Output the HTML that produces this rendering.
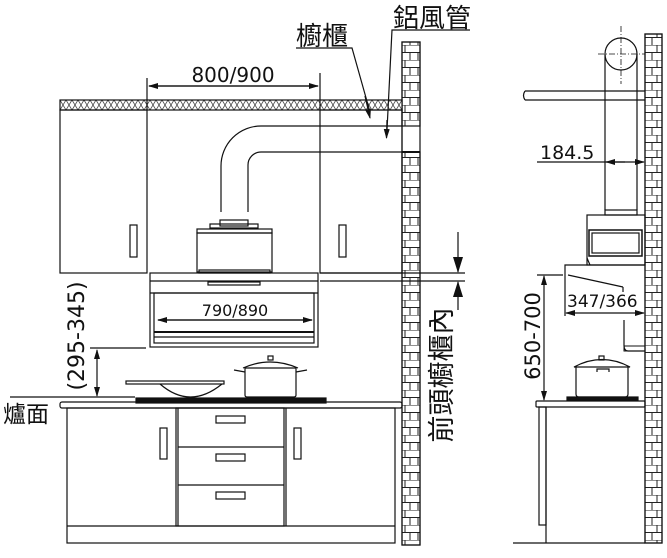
<!DOCTYPE html>
<html><head><meta charset="utf-8"><style>
html,body{margin:0;padding:0;background:#fff;}
svg{display:block;}
text{font-family:"DejaVu Sans","Noto Sans CJK TC",sans-serif;fill:#111;}
.cjk{font-family:"Liberation Sans","Noto Sans CJK TC",sans-serif;}
</style></head><body>
<svg width="667" height="558" viewBox="0 0 667 558" xmlns="http://www.w3.org/2000/svg">
<defs>
<pattern id="brick" x="0" y="0" width="18" height="15" patternUnits="userSpaceOnUse">
<rect width="18" height="15" fill="#fff"/>
<line x1="0" y1="0" x2="18" y2="0" stroke="#222" stroke-width="1"/>
<line x1="0" y1="7.5" x2="18" y2="7.5" stroke="#222" stroke-width="1"/>
<line x1="9" y1="0" x2="9" y2="7.5" stroke="#222" stroke-width="1"/>
<line x1="4" y1="7.5" x2="4" y2="15" stroke="#222" stroke-width="1"/>
<line x1="14" y1="7.5" x2="14" y2="15" stroke="#222" stroke-width="1"/>
</pattern>
<pattern id="hatch" width="6" height="10" patternUnits="userSpaceOnUse">
<rect width="6" height="10" fill="#fff"/>
<path d="M0 0 L6 10 M6 0 L0 10" stroke="#444" stroke-width="0.8"/>
</pattern>
<marker id="ah" markerWidth="10" markerHeight="6" refX="9" refY="3" orient="auto" markerUnits="userSpaceOnUse">
<path d="M0 0 L10 3 L0 6 Z" fill="#111"/>
</marker>
<marker id="ahb" markerWidth="16" markerHeight="10" refX="15" refY="5" orient="auto" markerUnits="userSpaceOnUse">
<path d="M0 0 L16 5 L0 10 Z" fill="#111"/>
</marker>
</defs>
<g stroke="#111" stroke-width="1.2" fill="none">
<rect x="402" y="42" width="18" height="84" fill="url(#brick)"/>
<rect x="402" y="152" width="18" height="393" fill="url(#brick)"/>
<rect x="402" y="42" width="18" height="503"/>
<line x1="402" y1="152" x2="420" y2="152" stroke-width="2"/>
<rect x="60" y="100" width="342" height="10" fill="url(#hatch)"/>
<rect x="60" y="110" width="87" height="163"/>
<rect x="130" y="225" width="7" height="32"/>
<line x1="147" y1="78" x2="147" y2="110"/>
<rect x="320" y="110" width="82" height="163"/>
<line x1="320" y1="73" x2="320" y2="110"/>
<rect x="339" y="225" width="7" height="32"/>
<line x1="149" y1="86" x2="318" y2="86" marker-end="url(#ah)"/>
<line x1="318" y1="86" x2="149" y2="86" marker-end="url(#ah)"/>
<path d="M221 212 L221 166 A40 40 0 0 1 261 126 L402 126"/>
<path d="M248 212 L248 165 A13 13 0 0 1 261 152 L402 152"/>
<rect x="220" y="220" width="28" height="6"/>
<rect x="210" y="224" width="48" height="4"/>
<rect x="197" y="229" width="75" height="4"/>
<rect x="197" y="233" width="75" height="39"/>
<rect x="199" y="270" width="71" height="3"/>
<rect x="150" y="273" width="168" height="74"/>
<line x1="150" y1="281" x2="318" y2="281"/>
<line x1="150" y1="293" x2="318" y2="293"/>
<rect x="208" y="282" width="52" height="3"/>
<rect x="154" y="293" width="160" height="50"/>
<line x1="154" y1="332" x2="314" y2="332" stroke-width="2"/>
<line x1="154" y1="337" x2="314" y2="337"/>
<line x1="158" y1="320" x2="312" y2="320" marker-end="url(#ah)"/>
<line x1="312" y1="320" x2="158" y2="320" marker-end="url(#ah)"/>
<line x1="320" y1="273" x2="465" y2="273"/>
<line x1="320" y1="281" x2="465" y2="281"/>
<line x1="458" y1="232" x2="458" y2="272" marker-end="url(#ahb)"/>
<line x1="458" y1="310" x2="458" y2="282" marker-end="url(#ahb)"/>
<line x1="90" y1="348" x2="146" y2="348"/>
<line x1="97" y1="372" x2="97" y2="350" marker-end="url(#ah)"/>
<line x1="97" y1="372" x2="97" y2="396" marker-end="url(#ah)"/>
<line x1="10" y1="397" x2="135" y2="397"/>
<rect x="136" y="398" width="190" height="5" fill="#111"/>
<rect x="126" y="381" width="98" height="3"/>
<path d="M160 384 Q190 410 222 384"/>
<path d="M245 395 L245 368 L296 368 L296 395 Q296 397 294 397 L247 397 Q245 397 245 395 Z"/>
<path d="M243 368 Q270 356 298 368"/>
<rect x="268" y="356" width="5" height="4"/>
<line x1="245" y1="372" x2="234" y2="370"/>
<line x1="296" y1="372" x2="307" y2="370"/>
<rect x="60" y="402" width="342" height="6" rx="2"/>
<rect x="67" y="408" width="328" height="135"/>
<line x1="67" y1="526" x2="395" y2="526"/>
<rect x="176" y="408" width="108" height="118"/>
<line x1="178" y1="408" x2="178" y2="526"/>
<line x1="286" y1="408" x2="286" y2="526"/>
<line x1="178" y1="447" x2="284" y2="447"/>
<line x1="178" y1="485" x2="284" y2="485"/>
<rect x="216" y="416" width="29" height="7"/>
<rect x="216" y="454" width="29" height="7"/>
<rect x="216" y="492" width="29" height="7"/>
<rect x="160" y="428" width="7" height="31"/>
<rect x="294" y="428" width="7" height="31"/>
<polyline points="296,48 352,48 370,112"/>
<line x1="365" y1="96" x2="370" y2="118" marker-end="url(#ah)"/>
<polyline points="470,30 392,30 387,130"/>
<line x1="387" y1="120" x2="386.5" y2="138" marker-end="url(#ah)"/>

<rect x="645" y="34" width="17" height="509" fill="url(#brick)"/>
<rect x="645" y="34" width="17" height="509"/>
<circle cx="621" cy="54" r="16"/>
<line x1="598" y1="54" x2="645" y2="54" stroke-dasharray="6,2,1,2" stroke-width="0.8"/>
<line x1="621" y1="26" x2="621" y2="84" stroke-dasharray="6,2,1,2" stroke-width="0.8"/>
<line x1="605" y1="54" x2="605" y2="210"/>
<line x1="637" y1="54" x2="637" y2="210"/>
<line x1="525" y1="91" x2="645" y2="91"/>
<line x1="525" y1="100" x2="645" y2="100"/>
<path d="M525 91 Q522 95.5 525 100"/>
<line x1="537" y1="162" x2="644" y2="162" marker-end="url(#ah)"/>
<line x1="625" y1="162" x2="606" y2="162" marker-end="url(#ah)"/>
<rect x="605" y="210" width="32" height="5"/>
<rect x="587" y="215" width="58" height="50"/>
<rect x="589" y="230" width="53" height="26" stroke-width="1.5"/>
<rect x="592" y="233" width="47" height="20"/>
<path d="M587 258 L590 265"/>
<path d="M565 316 L565 265 L645 265"/>
<line x1="537" y1="275" x2="563" y2="275"/>
<line x1="568" y1="275" x2="623" y2="287"/>
<line x1="623" y1="287" x2="623" y2="292"/>
<line x1="600" y1="313" x2="644" y2="313" marker-end="url(#ah)"/>
<line x1="600" y1="313" x2="566" y2="313" marker-end="url(#ah)"/>
<path d="M624 320 L624 345 Q624 351 628 351 L645 351"/>
<rect x="624" y="346" width="21" height="5" stroke-width="1"/>
<line x1="544" y1="335" x2="544" y2="276" marker-end="url(#ah)"/>
<line x1="544" y1="335" x2="544" y2="400" marker-end="url(#ah)"/>
<path d="M576 367 L576 394 Q576 397 579 397 L625 397 Q628 397 628 394 L628 367"/>
<path d="M574 367 Q602 352 630 367 Z"/>
<rect x="599" y="356" width="5" height="4"/>
<path d="M597 372 L597 369 L609 369 L609 372"/>
<rect x="567" y="397" width="71" height="3" fill="#111"/>
<rect x="536" y="401" width="109" height="6" rx="1"/>
<rect x="539" y="407" width="7" height="118"/>
<line x1="546" y1="407" x2="546" y2="543"/>
<line x1="513" y1="543" x2="645" y2="543"/>
</g>
<g stroke="none">
<text x="233" y="82" font-size="20" text-anchor="middle">800/900</text>
<text x="235" y="316" font-size="16" text-anchor="middle">790/890</text>
<text class="cjk" x="296" y="45" font-size="26">櫥櫃</text>
<text class="cjk" x="393" y="27" font-size="26">鋁風管</text>
<text class="cjk" x="3" y="422" font-size="23">爐面</text>
<text transform="translate(84,336) rotate(-90)" font-size="22" text-anchor="middle">(295-345)</text>
<text class="cjk" transform="translate(451,375) rotate(-90)" font-size="27" text-anchor="middle">前頭櫥櫃內</text>
<text x="540" y="159" font-size="19">184.5</text>
<text x="567" y="307" font-size="17">347/366</text>
<text transform="translate(540,336) rotate(-90)" font-size="21" text-anchor="middle">650-700</text>
</g>
</svg>
</body></html>
